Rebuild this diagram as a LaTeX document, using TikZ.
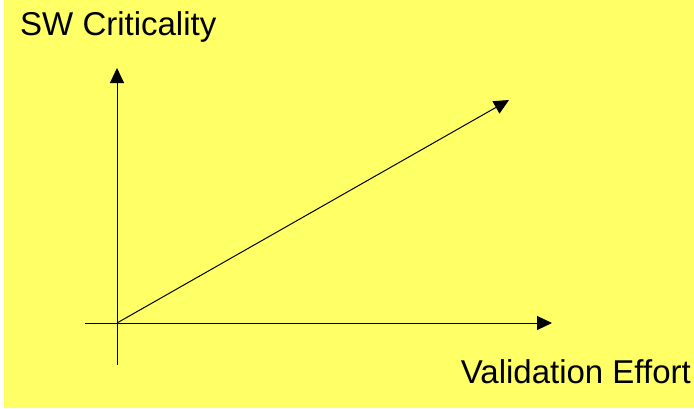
\documentclass[tikz,border=0pt]{standalone}
\usepackage{fontspec}
\setmainfont{Liberation Sans}
\usetikzlibrary{arrows.meta}
\definecolor{paper}{RGB}{255,255,102}
\tikzset{
  axis/.style={-{Triangle[length=15pt,width=14pt]}, line width=1pt, black},
  lbl/.style={font=\fontsize{33}{40}\selectfont, inner sep=0pt},
}
\begin{document}
\begin{tikzpicture}[x=1pt,y=-1pt]
  \useasboundingbox (0,0) rectangle (694,408);
  % background
  \fill[white] (0,0) rectangle (694,408);
  \fill[paper] (4,0) rectangle (694,408);

  % axis labels
  \node[lbl, anchor=base west] (crit) at (20,35) {SW Criticality};
  \node[lbl, anchor=base east] (effort) at (691,383) {Validation Effort};

  % axes
  \coordinate (o) at (117,323);
  \coordinate (xs) at (85,323);
  \coordinate (xe) at (552,323);
  \coordinate (ys) at (117,365);
  \coordinate (ye) at (117,68);
  \coordinate (d) at (509,100);
  \draw[axis] (xs) -- (xe);
  \draw[axis] (ys) -- (ye);
  \draw[axis] (o) -- (d);
\end{tikzpicture}
\end{document}
